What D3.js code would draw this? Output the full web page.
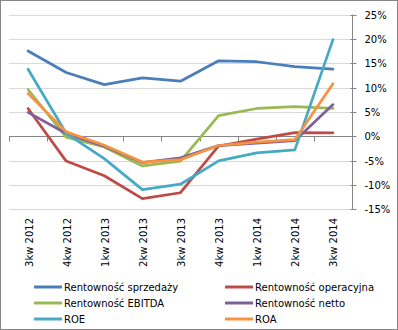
<!DOCTYPE html>
<html>
<head>
<meta charset="utf-8">
<script src="https://cdn.jsdelivr.net/npm/d3@7"></script>
<style>
  html, body { margin: 0; padding: 0; background: #fff; }
  svg { display: block; font-family: "DejaVu Sans", sans-serif; }
</style>
</head>
<body>
<svg id="chart" width="398" height="330"></svg>
<script>
const categories = ["3kw 2012", "4kw 2012", "1kw 2013", "2kw 2013", "3kw 2013", "4kw 2013", "1kw 2014", "2kw 2014", "3kw 2014"];
const seriesNames = ["Rentowność sprzedaży", "Rentowność operacyjna", "Rentowność EBITDA", "Rentowność netto", "ROE", "ROA"];
const sprzedazy   = [17.5, 13.1, 10.6, 12.0, 11.3, 15.5, 15.3, 14.3, 13.8];
const operacyjna  = [5.7, -5.1, -8.1, -12.8, -11.6, -2.0, -0.6, 0.75, 0.7];
const ebitda      = [9.6, -0.2, -2.2, -6.1, -5.1, 4.25, 5.7, 6.1, 5.7];
const netto       = [4.9, 0.55, -2.05, -5.4, -4.45, -1.9, -1.4, -0.9, 6.5];
const roe         = [13.75, 0.6, -4.6, -10.95, -9.85, -5.05, -3.4, -2.8, 19.85];
const roa         = [8.75, 0.9, -1.85, -5.3, -4.8, -1.9, -1.2, -0.7, 10.8];
const yTicks      = [-15, -10, -5, 0, 5, 10, 15, 20, 25];
const colors      = ["#4A7EBB", "#BE4B48", "#98B954", "#7D60A0", "#46AAC5", "#F69240"];

const allValues = [sprzedazy, operacyjna, ebitda, netto, roe, roa];
const series = seriesNames.map((name, i) => ({ name, values: allValues[i], color: colors[i] }));

const svg = d3.select("#chart");

// outer border
svg.append("rect").attr("x", 0.5).attr("y", 0.5).attr("width", 397).attr("height", 329)
  .attr("fill", "#fff").attr("stroke", "#868686").attr("stroke-width", 1);

const plotLeft = 9, plotRight = 352, plotTop = 14.5, plotBottom = 209.3;

const x = d3.scaleBand().domain(categories).range([plotLeft, plotRight]).padding(0);
const y = d3.scaleLinear().domain([-15, 25]).range([plotBottom, plotTop]);
const cx = c => x(c) + x.bandwidth() / 2;

// gridlines
svg.append("g").selectAll("line").data(yTicks.filter(t => t !== 0)).join("line")
  .attr("x1", plotLeft).attr("x2", plotRight)
  .attr("y1", d => Math.round(y(d)) + 0.5).attr("y2", d => Math.round(y(d)) + 0.5)
  .attr("stroke", "#D9D9D9").attr("stroke-width", 1);

// right value axis
const yAxis = d3.axisRight(y).tickValues(yTicks).tickFormat(d => d + "%").tickSize(4).tickPadding(8);
const yg = svg.append("g").attr("transform", `translate(${plotRight + 0.5},0)`).call(yAxis);
yg.select(".domain").attr("stroke", "#868686").attr("d", `M0,${plotTop}V${plotBottom}`);
yg.selectAll(".tick").attr("transform", d => `translate(0,${Math.round(y(d)) + 0.5})`);
yg.selectAll(".tick line").attr("x1", -2).attr("x2", 4).attr("stroke", "#868686");
yg.selectAll(".tick text").attr("font-size", 10).attr("fill", "#000")
  .attr("font-family", "DejaVu Sans, sans-serif");

// zero category axis line with ticks at band boundaries
const y0 = Math.round(y(0)) + 0.5;
const zg = svg.append("g");
zg.append("line").attr("x1", plotLeft).attr("x2", plotRight).attr("y1", y0).attr("y2", y0)
  .attr("stroke", "#868686").attr("stroke-width", 1);
const boundaries = categories.map(c => x(c));
zg.selectAll("line.tk").data(boundaries).join("line").attr("class", "tk")
  .attr("x1", d => Math.round(d) + 0.5).attr("x2", d => Math.round(d) + 0.5)
  .attr("y1", y0).attr("y2", y0 + 5).attr("stroke", "#868686");

// category labels (rotated) at the bottom
const xAxis = d3.axisBottom(x).tickSize(0).tickPadding(0);
const xg = svg.append("g").attr("transform", `translate(0,218)`).call(xAxis);
xg.select(".domain").remove();
xg.selectAll(".tick text")
  .attr("font-size", 10).attr("fill", "#000").attr("font-family", "DejaVu Sans, sans-serif")
  .attr("text-anchor", "end").attr("y", 0).attr("x", 0).attr("dy", "0.35em")
  .attr("transform", "translate(1,0) rotate(-90)");

// lines
const line = d3.line().x((d, i) => cx(categories[i])).y(d => y(d));
svg.append("g").selectAll("path").data(series).join("path")
  .attr("d", d => line(d.values))
  .attr("fill", "none").attr("stroke", d => d.color).attr("stroke-width", 2.75)
  .attr("stroke-linejoin", "round").attr("stroke-linecap", "round");

// legend
const legendCols = [34, 225];
const legendRows = [287, 303, 319];
const lg = svg.append("g").selectAll("g").data(series).join("g")
  .attr("transform", (d, i) => `translate(${legendCols[i % 2]},${legendRows[Math.floor(i / 2)]})`);
lg.append("line").attr("x1", 0).attr("x2", 28).attr("y1", 0).attr("y2", 0)
  .attr("stroke", d => d.color).attr("stroke-width", 3);
lg.append("text").attr("x", 30).attr("y", 0).attr("dy", "0.35em")
  .attr("font-size", 10).attr("fill", "#000").text(d => d.name);
</script>
</body>
</html>
